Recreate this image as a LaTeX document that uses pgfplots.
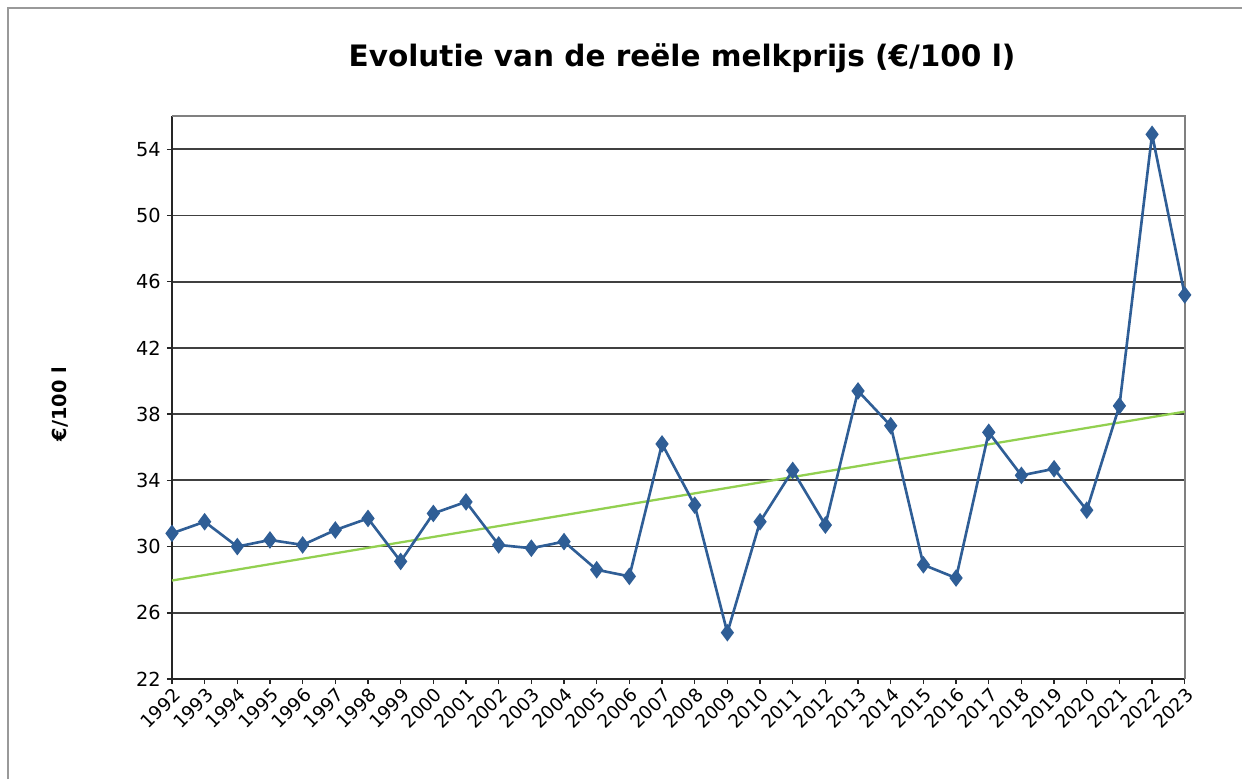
\documentclass[border=0pt]{standalone}
\usepackage{fontspec}
\setmainfont{DejaVu Sans}
\usepackage{pgfplots}
\pgfplotsset{compat=1.18}
\definecolor{serblue}{RGB}{47,94,150}
\definecolor{trendgreen}{RGB}{146,208,80}
\begin{document}
\begin{tikzpicture}[x=0.02cm,y=0.02cm]
\useasboundingbox (0,0) rectangle (1242,779);
\draw[gray!80, line width=1pt] (8,0) -- (8,771) -- (1242,771);
\node[font=\bfseries\fontsize{16.8}{20}\selectfont] at (682,721) {Evolutie van de reële melkprijs (€/100 l)};
\node[rotate=90, font=\bfseries\fontsize{11}{13}\selectfont] at (60,375) {€/100 l};
\begin{axis}[at={(3.44cm,2cm)}, anchor=south west, scale only axis,
  width=20.26cm, height=11.26cm,
  xmin=1992, xmax=2023, ymin=22, ymax=56,
  ytick={22,26,...,54}, xtick={1992,...,2023},
  ymajorgrids, major grid style={line width=1pt, black!75},
  axis x line*=bottom, axis y line*=left,
  axis line style={line width=1pt, black!85},
  tick style={line width=0.8pt, black!85},
  major tick length=0.1cm, tick align=outside,
  /pgf/number format/assume math mode=true,
  /pgf/number format/1000 sep={},
  xticklabel style={rotate=45, anchor=north east, font=\fontsize{10.5}{12}\selectfont, inner sep=1pt},
  yticklabel style={font=\fontsize{11}{13}\selectfont},
  clip=false]
\draw[gray, line width=1pt] (rel axis cs:0,1) -- (rel axis cs:1,1) -- (rel axis cs:1,0);
\addplot[trendgreen, line width=1.3pt] coordinates {(1992,27.95) (2023,38.15)};
\addplot[serblue, line width=1.5pt, mark=diamond*, mark size=3.8pt, mark options={solid}] coordinates {
(1992,30.8) (1993,31.5) (1994,30.0) (1995,30.4) (1996,30.1) (1997,31.0) (1998,31.7) (1999,29.1)
(2000,32.0) (2001,32.7) (2002,30.1) (2003,29.9) (2004,30.3) (2005,28.6) (2006,28.2) (2007,36.2)
(2008,32.5) (2009,24.8) (2010,31.5) (2011,34.6) (2012,31.3) (2013,39.4) (2014,37.3) (2015,28.9)
(2016,28.1) (2017,36.9) (2018,34.3) (2019,34.7) (2020,32.2) (2021,38.5) (2022,54.9) (2023,45.2)};
\end{axis}
\end{tikzpicture}
\end{document}
